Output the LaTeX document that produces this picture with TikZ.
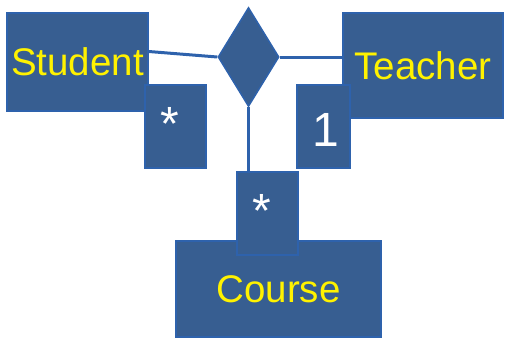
\documentclass[tikz,border=0pt]{standalone}
\usepackage{fontspec}
\setmainfont{Liberation Sans}
\usetikzlibrary{shapes,positioning}
\definecolor{boxfill}{RGB}{55,94,145}
\definecolor{boxline}{RGB}{46,98,172}
\begin{document}
\begin{tikzpicture}[x=1pt,y=-1pt,
        entity/.style={rectangle,draw=boxline,fill=boxfill,line width=1.5pt,inner sep=0pt,
          text=yellow,font=\fontsize{38.5}{40}\selectfont},
        mult/.style={rectangle,draw=boxline,fill=boxfill,line width=1.5pt,inner ysep=0pt,
          inner xsep=15pt,text width=31pt,align=left,text height=61pt,text depth=22pt,
          text=white,font=\fontsize{48}{50}\selectfont},
        star/.style={mult,text height=55pt,text depth=28pt},
        link/.style={draw=boxline,line width=3pt}]
        \useasboundingbox (0,0) rectangle (505,337);
        \node[entity,minimum width=141pt,minimum height=98pt] (student) at (77.5,62) {Student};
        \node[star] (mstudent) at (175.5,126.5) {*};
        \node[entity,minimum width=160pt,minimum height=105pt] (teacher) at (423,65.5) {Teacher};
        \node[mult,text width=23pt] (mteacher) at (323.5,126.5) {1};
        \node[entity,minimum width=205pt,minimum height=96pt] (course) at (278.5,289) {Course};
        \node[star] (mcourse) at (267.5,213.5) {*};
        \node[diamond,draw=boxline,fill=boxfill,line width=1.5pt,inner sep=0pt,
          minimum width=61pt,minimum height=99pt] (rel) at (248.5,57) {};
        \draw[link] ([yshift=10.5pt]student.east) -- (rel.west);
        \draw[link] (rel.east) -- (rel.east -| teacher.west);
        \draw[link] (rel.south) -- (rel.south |- mcourse.north);
\end{tikzpicture}
\end{document}
